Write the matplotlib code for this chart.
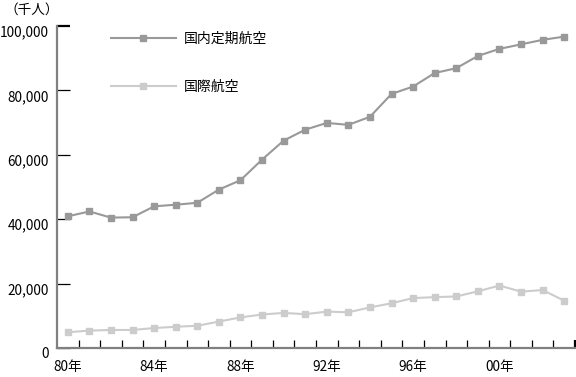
import matplotlib
matplotlib.use('Agg')
import matplotlib.pyplot as plt
import matplotlib.transforms as mtransforms
from matplotlib.ticker import FuncFormatter

plt.rcParams['font.family'] = ['Noto Sans CJK JP', 'DejaVu Sans']

# data (thousand persons), 1980-2003
years = list(range(1980, 2004))
domestic = [40.9, 42.4, 40.5, 40.6, 44.0, 44.5, 45.1, 49.2, 52.1, 58.5,
            64.4, 67.8, 69.9, 69.3, 71.8, 78.9, 81.2, 85.4, 86.9, 90.7,
            92.9, 94.3, 95.7, 96.7]
international = [4.9, 5.4, 5.6, 5.6, 6.2, 6.6, 6.9, 8.2, 9.5, 10.4,
                 10.9, 10.5, 11.3, 11.1, 12.6, 13.9, 15.5, 15.8, 16.0, 17.6,
                 19.4, 17.5, 18.0, 14.7]
domestic = [v * 1000 for v in domestic]
international = [v * 1000 for v in international]
series_names = ['国内定期航空', '国際航空']
tick_years = [1980, 1984, 1988, 1992, 1996, 2000]
y_ticks = [0, 20000, 40000, 60000, 80000, 100000]

fig = plt.figure(figsize=(5.76, 3.77), dpi=100)
ax = fig.add_axes([57 / 576, 1 - 348 / 377, 518 / 576, 322 / 377])

x = list(range(len(years)))
ax.plot(x, domestic, color='#999999', lw=1.5, marker='s', ms=5,
        label=series_names[0])
ax.plot(x, international, color='#cccccc', lw=1.5, marker='s', ms=5,
        label=series_names[1])

ax.set_xlim(-0.5, len(years) - 0.5)
ax.set_ylim(0, 100000)

for s in ['top', 'right']:
    ax.spines[s].set_visible(False)
for s in ['left', 'bottom']:
    ax.spines[s].set_color('#808080')
    ax.spines[s].set_linewidth(1.6)

# x: labels at selected years, ticks at category boundaries
ax.set_xticks([years.index(y) for y in tick_years])
ax.set_xticklabels([f'{y % 100:02d}年' for y in tick_years], fontsize=9.8)
ax.tick_params(axis='x', which='major', length=0, pad=9)
bounds = [i - 0.5 for i in range(1, len(years) + 1)]
ax.set_xticks(bounds, minor=True)
ax.tick_params(axis='x', which='minor', direction='in', length=6,
               width=0.9, color='black')

ax.set_yticks(y_ticks)
ax.yaxis.set_major_formatter(FuncFormatter(lambda v, p: f'{int(v):,}'))
ax.tick_params(axis='y', direction='in', length=9, width=0.9,
               color='black', labelsize=9.8, pad=6)
shift = mtransforms.ScaledTranslation(0, -5 / 100, fig.dpi_scale_trans)
for lbl in ax.get_yticklabels():
    lbl.set_transform(lbl.get_transform() + shift)

# end ticks drawn in axis colour
top_tick = ax.yaxis.get_major_ticks()[len(y_ticks) - 1].tick1line
top_tick.set_color('#808080')
top_tick.set_markeredgewidth(1.6)
end_tick = ax.xaxis.get_minor_ticks()[len(bounds) - 1].tick1line
end_tick.set_color('#808080')
end_tick.set_markeredgewidth(1.6)

fig.text(4 / 576, 1 - 10 / 377, '（千人）', fontsize=9.8, va='center')

ax.legend(loc='upper left', bbox_to_anchor=(105 / 576, 1 - 26 / 377),
          bbox_transform=fig.transFigure, frameon=False, fontsize=10,
          handlelength=4.7, handletextpad=0.6, labelspacing=2.5,
          borderaxespad=0)

fig.savefig('out.png', dpi=100)
